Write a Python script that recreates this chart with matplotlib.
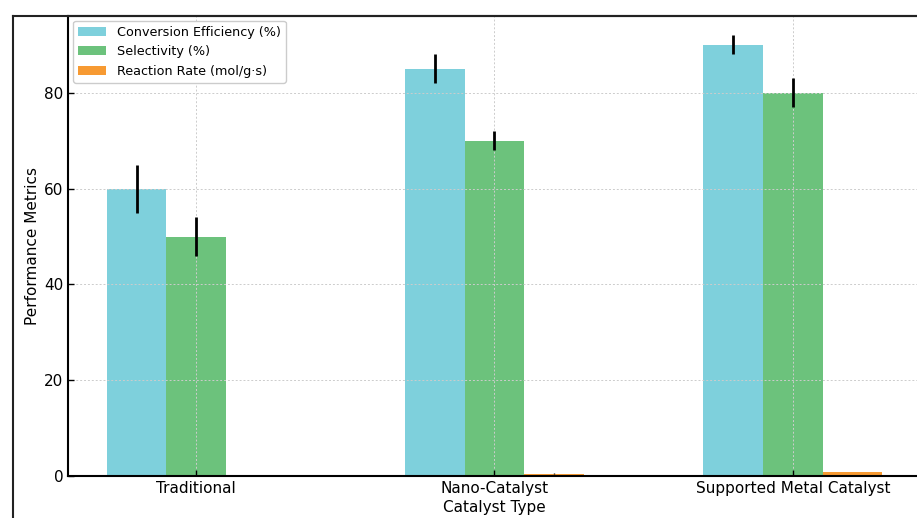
import matplotlib
matplotlib.use("Agg")
import matplotlib.pyplot as plt
import numpy as np
from matplotlib.lines import Line2D

categories = ["Traditional", "Nano-Catalyst", "Supported Metal Catalyst"]
conversion = [60, 85, 90]
conversion_err = [5, 3, 2]
selectivity = [50, 70, 80]
selectivity_err = [4, 2, 3]
reaction_rate = [0.05, 0.5, 0.8]
reaction_rate_err = [0.02, 0.05, 0.05]

series_names = ["Conversion Efficiency (%)", "Selectivity (%)", "Reaction Rate (mol/g\u00b7s)"]
colors = ["#7ed0dc", "#6cc27c", "#f79a32"]

fig = plt.figure(figsize=(9.17, 5.18), dpi=100)
ax = fig.add_axes([68/917, 42/518, 853/917, 460.3/518])

x = np.arange(len(categories))
w = 0.2
ax.bar(x - w, conversion, w, yerr=conversion_err, color=colors[0], label=series_names[0],
       error_kw=dict(ecolor="black", elinewidth=2, capsize=0))
ax.bar(x, selectivity, w, yerr=selectivity_err, color=colors[1], label=series_names[1],
       error_kw=dict(ecolor="black", elinewidth=2, capsize=0))
ax.bar(x + w, reaction_rate, w, yerr=reaction_rate_err, color=colors[2], label=series_names[2],
       error_kw=dict(ecolor="black", elinewidth=1, capsize=0))

ax.set_xlim(-0.43, 2.43)
ax.set_ylim(0, 96.1)
ax.set_xticks(x)
ax.set_xticklabels(categories, fontsize=11)
ax.set_yticks([0, 20, 40, 60, 80])
ax.tick_params(axis="both", direction="in", labelsize=11, length=4, width=1)
ax.set_xlabel("Catalyst Type", fontsize=11, labelpad=3)
ax.set_ylabel("Performance Metrics", fontsize=11, labelpad=3)
ax.grid(True, linestyle=(0, (2, 2)), color="#cccccc", linewidth=0.7)
for s in ["left", "bottom", "top"]:
    ax.spines[s].set_linewidth(1.5)
ax.spines["right"].set_visible(False)

ax.legend(loc="upper left", fontsize=9.2, framealpha=1, edgecolor="#cccccc",
          borderaxespad=0.4, handlelength=2.2)

# outer frame lines
fig.add_artist(Line2D([13/917, 13/917], [0, 1 - 15.5/518], transform=fig.transFigure,
                      color="#222222", linewidth=1.5))
fig.add_artist(Line2D([13/917, 1], [1 - 15.5/518, 1 - 15.5/518], transform=fig.transFigure,
                      color="#222222", linewidth=1.5))

fig.savefig("out.png", dpi=100)
